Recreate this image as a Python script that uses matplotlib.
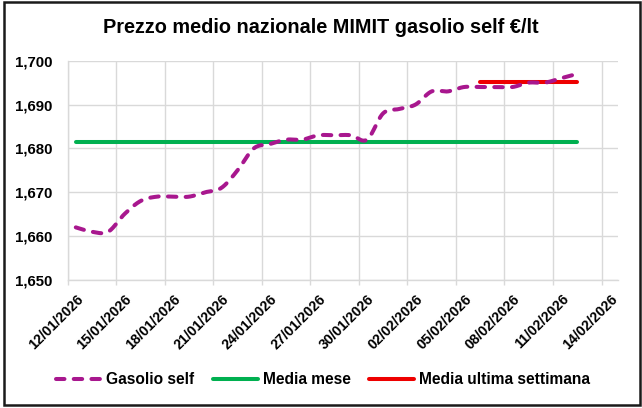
import matplotlib
matplotlib.use("Agg")
import matplotlib.pyplot as plt
import matplotlib.dates as mdates
from matplotlib import font_manager
from matplotlib.patches import Rectangle
from matplotlib.ticker import FixedLocator, FuncFormatter, MultipleLocator
from matplotlib.transforms import blended_transform_factory, ScaledTranslation
import numpy as np
import pandas as pd

# ---------------- data ----------------
dates = ["2026-01-12", "2026-01-13", "2026-01-14", "2026-01-15", "2026-01-16",
         "2026-01-17", "2026-01-18", "2026-01-19", "2026-01-20", "2026-01-21",
         "2026-01-22", "2026-01-23", "2026-01-24", "2026-01-25", "2026-01-26",
         "2026-01-27", "2026-01-28", "2026-01-29", "2026-01-30", "2026-01-31",
         "2026-02-01", "2026-02-02", "2026-02-03", "2026-02-04", "2026-02-05",
         "2026-02-06", "2026-02-07", "2026-02-08", "2026-02-09", "2026-02-10",
         "2026-02-11", "2026-02-12"]
gasolio_self = [1.662, 1.661, 1.661, 1.665, 1.668, 1.669, 1.669, 1.669, 1.670, 1.671,
                1.675, 1.680, 1.681, 1.682, 1.682, 1.683, 1.683, 1.683, 1.682, 1.688,
                1.689, 1.690, 1.693, 1.693, 1.694, 1.694, 1.694, 1.694, 1.695, 1.695,
                1.696, 1.697]
media_mese = 1.6815
media_settimana = 1.6952
settimana_start = "2026-02-06"
settimana_end = "2026-02-12"
tick_dates = ["2026-01-12", "2026-01-15", "2026-01-18", "2026-01-21", "2026-01-24",
              "2026-01-27", "2026-01-30", "2026-02-02", "2026-02-05", "2026-02-08",
              "2026-02-11", "2026-02-14"]
tick_labels = ["12/01/2026", "15/01/2026", "18/01/2026", "21/01/2026", "24/01/2026",
               "27/01/2026", "30/01/2026", "02/02/2026", "05/02/2026", "08/02/2026",
               "11/02/2026", "14/02/2026"]
x_min_date = "2026-01-12"
x_max_date = "2026-02-15"
title = "Prezzo medio nazionale MIMIT gasolio self €/lt"
series_names = ["Gasolio self", "Media mese", "Media ultima settimana"]

# ---------------- fonts ----------------
def available(name):
    try:
        font_manager.findfont(font_manager.FontProperties(family=name), fallback_to_default=False)
        return True
    except Exception:
        return False

base_font = "Liberation Sans" if available("Liberation Sans") else "DejaVu Sans"
plt.rcParams["font.family"] = [base_font, "DejaVu Sans"]

C_MAG = "#A8178E"
C_GREEN = "#00B050"
C_RED = "#EE0000"
C_GRID = "#D9D9D9"

W, H = 642, 408
fig = plt.figure(figsize=(W / 100, H / 100), dpi=100)
L, R, T, B = 67.7, 617.7, 60.7, 280.0
ax = fig.add_axes([L / W, 1 - B / H, (R - L) / W, (B - T) / H])

x = mdates.date2num(pd.to_datetime(dates)) + 0.5
y = np.array(gasolio_self)

# Excel-like smoothed line (cubic Bezier through points)
def smooth(xs, ys, n=24):
    P = np.column_stack([xs, ys])
    Pp = np.vstack([P[0], P, P[-1]])
    out = []
    for i in range(len(P) - 1):
        p0, p1, p2, p3 = Pp[i], Pp[i + 1], Pp[i + 2], Pp[i + 3]
        c1 = p1 + (p2 - p0) / 6.0
        c2 = p2 - (p3 - p1) / 6.0
        t = np.linspace(0, 1, n, endpoint=(i == len(P) - 2))[:, None]
        seg = ((1 - t) ** 3) * p1 + 3 * ((1 - t) ** 2) * t * c1 + 3 * (1 - t) * t ** 2 * c2 + t ** 3 * p2
        out.append(seg)
    out = np.vstack(out)
    return out[:, 0], out[:, 1]

sx, sy = smooth(x, y)
ln1, = ax.plot(sx, sy, color=C_MAG, lw=2.9, dashes=(2.1, 2.3),
               dash_capstyle="round", solid_capstyle="round", zorder=4)
ln2, = ax.plot([x[0], x[-1]], [media_mese, media_mese], color=C_GREEN, lw=2.9,
               solid_capstyle="round", zorder=3)
ws = mdates.date2num(pd.to_datetime(settimana_start)) + 0.5
we = mdates.date2num(pd.to_datetime(settimana_end)) + 0.5
ln3, = ax.plot([ws, we], [media_settimana, media_settimana], color=C_RED, lw=2.9,
               solid_capstyle="round", zorder=3)

ax.set_xlim(mdates.date2num(pd.to_datetime(x_min_date)), mdates.date2num(pd.to_datetime(x_max_date)))
ax.set_ylim(1.650, 1.700)
ax.yaxis.set_major_locator(MultipleLocator(0.01))
ax.yaxis.set_major_formatter(FuncFormatter(lambda v, p: f"{v:.3f}".replace(".", ",")))
tick_pos = mdates.date2num(pd.to_datetime(tick_dates))
ax.xaxis.set_major_locator(FixedLocator(tick_pos))
ax.set_xticklabels([])
ax.grid(True, color=C_GRID, lw=1.0)
ax.set_axisbelow(True)
for s in ["top", "right"]:
    ax.spines[s].set_visible(False)
ax.spines["left"].set_color(C_GRID)
ax.spines["bottom"].set_color(C_GRID)
ax.spines["left"].set_linewidth(1.0)
ax.spines["bottom"].set_linewidth(1.0)
ax.tick_params(axis="y", length=0, pad=11.3, labelsize=10.8)
ax.tick_params(axis="x", length=3.5, color=C_GRID, width=1.0)
for lab in ax.get_yticklabels():
    lab.set_fontweight("bold")

trans = blended_transform_factory(ax.transData, ax.transAxes) + \
    ScaledTranslation(8.5 / 100, -12 / 100, fig.dpi_scale_trans)
for tp, tl in zip(tick_pos, tick_labels):
    ax.text(tp, 0, tl, transform=trans, rotation=45, rotation_mode="anchor",
            ha="right", va="top", fontsize=10.2, fontweight="bold", clip_on=False)

fig.text(0.5, 1 - 33 / H, title, ha="center", va="baseline", fontsize=14.3,
         fontweight="bold")

leg = fig.legend([ln1, ln2, ln3], series_names, loc="center", ncol=3,
                 bbox_to_anchor=(323 / W, 1 - 380 / H), frameon=False,
                 prop={"weight": "bold", "size": 11.2},
                 handlelength=2.9, handletextpad=0.3, columnspacing=1.2)

fig.patches.append(Rectangle((3.5 / W, 3 / H), (639.5 - 3.5) / W, (406.5 - 3) / H,
                             transform=fig.transFigure, fill=False, lw=1.8,
                             edgecolor="#1a1a1a", zorder=10))

fig.savefig("out.png", dpi=100)
